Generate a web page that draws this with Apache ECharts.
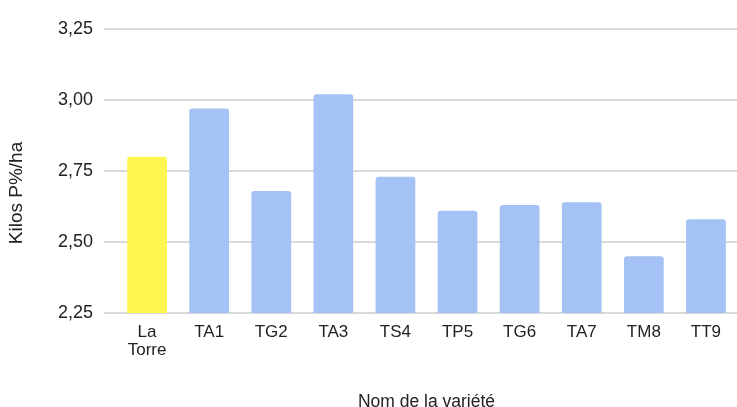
<!DOCTYPE html>
<html>
<head>
<meta charset="utf-8">
<script src="https://cdn.jsdelivr.net/npm/echarts@6/dist/echarts.min.js"></script>
<style>html,body{margin:0;padding:0;background:#fff;overflow:hidden;}#c{width:737px;height:407px;}</style>
</head>
<body>
<div id="c"></div>
<script>
var categories = ['La\nTorre', 'TA1', 'TG2', 'TA3', 'TS4', 'TP5', 'TG6', 'TA7', 'TM8', 'TT9'];
var values = [2.80, 2.97, 2.68, 3.02, 2.73, 2.61, 2.63, 2.64, 2.45, 2.58];
var barColors = ['#fff64f', '#a4c2f4', '#a4c2f4', '#a4c2f4', '#a4c2f4', '#a4c2f4', '#a4c2f4', '#a4c2f4', '#a4c2f4', '#a4c2f4'];
var yTicks = [2.25, 2.50, 2.75, 3.00, 3.25];
var xName = 'Nom de la variété';
var yName = 'Kilos P%/ha';

var chart = echarts.init(document.getElementById('c'), null, {renderer: 'canvas', width: 737, height: 407});
var font = 'Liberation Sans, Arial, Helvetica, sans-serif';
var yMin = yTicks[0], yMax = yTicks[yTicks.length - 1];
chart.setOption({
  animation: false,
  grid: [
    {left: 104, right: 0, top: 29, height: 284, containLabel: false, outerBoundsMode: 'none'},
    {left: 116, right: 0, top: 29, height: 284, containLabel: false, outerBoundsMode: 'none'}
  ],
  xAxis: [
    {gridIndex: 0, type: 'value', show: false, min: 0, max: 1},
    {
      gridIndex: 1,
      type: 'category',
      data: categories,
      name: xName,
      nameLocation: 'middle',
      nameGap: 80,
      nameTextStyle: {fontFamily: font, fontSize: 17.5, color: '#222'},
      axisLine: {show: false},
      axisTick: {show: false},
      axisLabel: {fontFamily: font, fontSize: 17, color: '#222', margin: 10, lineHeight: 18, interval: 0}
    }
  ],
  yAxis: [
    {
      gridIndex: 0,
      type: 'value',
      min: yMin,
      max: yMax,
      interval: 0.25,
      name: yName,
      nameLocation: 'middle',
      nameGap: 78,
      nameTextStyle: {fontFamily: font, fontSize: 19, color: '#222', padding: [0, 44, 0, 0]},
      axisLine: {show: false},
      axisTick: {show: false},
      splitLine: {show: true, lineStyle: {color: '#d9d9d9', width: 2}},
      axisLabel: {
        fontFamily: font, fontSize: 18, color: '#222', margin: 11,
        formatter: function (v) { return v.toFixed(2).replace('.', ','); }
      }
    },
    {gridIndex: 1, type: 'value', show: false, min: yMin, max: yMax, interval: 0.25, splitLine: {show: false}}
  ],
  series: [{
    type: 'bar',
    xAxisIndex: 1,
    yAxisIndex: 1,
    barWidth: '64%',
    data: values.map(function (v, i) {
      return {value: v, itemStyle: {color: barColors[i], borderRadius: [3, 3, 0, 0]}};
    })
  }]
});
</script>
</body>
</html>
